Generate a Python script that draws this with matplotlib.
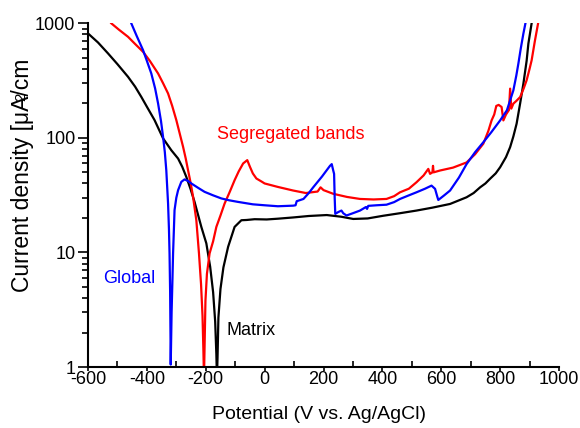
import matplotlib
matplotlib.use("Agg")
import matplotlib.pyplot as plt
from matplotlib.ticker import FixedLocator, FixedFormatter, LogLocator, NullFormatter, MultipleLocator

plt.rcParams['font.family'] = ['Liberation Sans', 'DejaVu Sans']
plt.rcParams['axes.unicode_minus'] = False

# Matrix (black)
matrix_v = [-600, -566, -532, -500, -464, -440, -419, -400, -374, -345, -317, -294, -280, -266, -252,
            -238, -215, -198, -185, -175, -168, -164, -162, -160, -157, -150, -140, -124, -102,
            -79, -61, -34, 7, 45, 97, 150, 211, 260, 301, 350, 403, 460, 516, 570,
            630, 686, 710, 732, 750, 766, 785, 800, 820, 834, 845, 856, 868, 879, 890, 896, 907, 915]
matrix_i = [816, 680, 546, 440, 341, 280, 228, 187, 143, 99, 78, 66, 56, 45.6, 36,
            27.6, 16.7, 12, 7.5, 4.5, 2.5, 1.3, 0.8, 1.2, 2.7, 4.8, 7.4, 11.2, 16.7,
            19.1, 19.2, 19.5, 19.4, 19.7, 20.2, 20.8, 21.2, 20.5, 19.6, 19.8, 20.9, 22.0, 23.2, 24.6,
            26.5, 30.3, 33, 37, 40, 44, 49, 55.4, 68, 83, 103, 133, 200, 297, 470, 666, 1000, 1400]

# Segregated bands (red)
seg_v = [-540, -521, -495, -464, -440, -413, -390, -362, -345, -328, -314, -300, -288, -277, -268,
         -260, -251, -243, -232, -223, -216, -211, -208, -206, -204, -201, -196, -187, -175, -164,
         -150, -136, -118, -102, -88, -73, -59, -50, -40, -28, -10, 0, 45, 97, 140, 180, 190, 200,
         233, 280, 324, 370, 414, 440, 460, 490, 516, 540, 556, 562, 570, 572, 574, 596, 640, 686,
         715, 743, 760, 771, 780, 787, 795, 805, 811, 820, 830, 834, 838, 845, 855, 868, 880, 890,
         900, 907, 918, 929, 935]
seg_i = [1150, 1000, 880, 762, 660, 564, 470, 365, 300, 244, 190, 143, 108, 83.5, 66,
         52, 40, 30.5, 19.1, 9.8, 5.3, 2.8, 1.4, 0.8, 1.5, 3.8, 6.5, 9.8, 12.5, 16.7,
         21, 26.7, 34, 42.7, 51, 59.8, 63.9, 56, 48.9, 44.2, 41.5, 40, 37.3, 34.7, 33, 34, 37, 35,
         32.5, 30.5, 29.3, 29.0, 29.3, 31, 33.5, 36, 41, 47, 53.6, 48.5, 50, 57, 50, 51.9, 55, 61,
         72, 89, 115, 142, 160, 190, 194, 186, 142, 160, 175, 269, 180, 199, 210, 227, 270, 318,
         400, 475, 700, 1000, 1300]

# Global (blue)
glob_v = [-470, -453, -435, -413, -400, -385, -372, -362, -352, -345, -339, -334, -328, -325, -323,
          -321, -319, -316, -313, -311, -306, -300, -294, -283, -272, -260, -249, -225, -204, -175,
          -147, -120, -90, -40, 0, 45, 97, 105, 109, 132, 150, 165, 195, 222, 228, 233, 236, 238,
          240, 250, 261, 267, 278, 300, 324, 344, 348, 352, 380, 414, 440, 460, 490, 516, 545, 567,
          579, 586, 590, 610, 630, 660, 686, 715, 743, 770, 800, 823, 845, 855, 862, 870, 879, 886, 892]
glob_i = [1400, 1000, 780, 583, 470, 365, 270, 200, 140, 102, 75, 52, 26.7, 16, 9.8,
          4.5, 1.05, 3.0, 6, 9.8, 23.4, 30, 34.9, 41.3, 43.4, 42, 40, 36.5, 33.8, 31.5,
          29.6, 28.5, 27.6, 26.3, 25.8, 25.3, 25.6, 25.8, 28, 29.3, 33, 37, 46, 57, 59, 52, 48.5, 30,
          21.7, 22.5, 23.2, 22, 21, 22, 23.2, 24.9, 24, 25.5, 25.8, 26.1, 27.5, 29.3, 31.5, 33.5, 36, 38.3,
          35.9, 31, 28.7, 31.5, 34.7, 45, 59, 75, 91.6, 112, 142, 174, 260, 350, 445, 600, 813, 1000, 1300]

x_ticks = [-600, -400, -200, 0, 200, 400, 600, 800, 1000]
y_ticks = [1, 10, 100, 1000]
y_tick_labels = ["1", "10", "100", "1000"]

fig = plt.figure(figsize=(5.8, 4.28), dpi=100)
ax = fig.add_axes([88/580, 1-367/428, (559-88)/580, (367-23.3)/428])

ax.plot(matrix_v, matrix_i, color='black', lw=1.6)
ax.plot(seg_v, seg_i, color='#ff0000', lw=1.6)
ax.plot(glob_v, glob_i, color='#0000ff', lw=1.6)

ax.set_yscale('log')
ax.set_xlim(-600, 1000)
ax.set_ylim(1, 1000)

ax.xaxis.set_major_locator(FixedLocator(x_ticks))
ax.xaxis.set_minor_locator(MultipleLocator(100))
ax.yaxis.set_major_locator(FixedLocator(y_ticks))
ax.yaxis.set_major_formatter(FixedFormatter(y_tick_labels))
ax.yaxis.set_minor_locator(LogLocator(base=10, subs=range(2, 10)))
ax.yaxis.set_minor_formatter(NullFormatter())

for s in ['top', 'right']:
    ax.spines[s].set_visible(False)
for s in ['left', 'bottom']:
    ax.spines[s].set_linewidth(1.5)

ax.tick_params(axis='x', which='major', direction='out', length=3, width=1.2, labelsize=13, pad=0)
ax.tick_params(axis='x', which='minor', direction='in', length=4, width=1.2)
ax.tick_params(axis='y', which='major', direction='out', length=7, width=1.2, labelsize=13, pad=2)
ax.tick_params(axis='y', which='minor', direction='out', length=4, width=1.2)

ax.set_xlabel("Potential (V vs. Ag/AgCl)", fontsize=14)
ax.xaxis.set_label_coords(0.4915, -0.113)
ax.set_ylabel("Current density [μA/cm", fontsize=16.5)
ax.yaxis.set_label_coords(-0.1146, 0.5586)
fig.text(21/580, 1-97/428, "2", fontsize=11, rotation=90, ha='center', va='center')

ax.text(-162, 106, "Segregated bands", color='#ff0000', fontsize=13, va='center', ha='left')
ax.text(-549, 5.96, "Global", color='#0000ff', fontsize=13, va='center', ha='left')
ax.text(-128, 2.09, "Matrix", color='black', fontsize=13, va='center', ha='left')

fig.savefig("out.png", dpi=100)
